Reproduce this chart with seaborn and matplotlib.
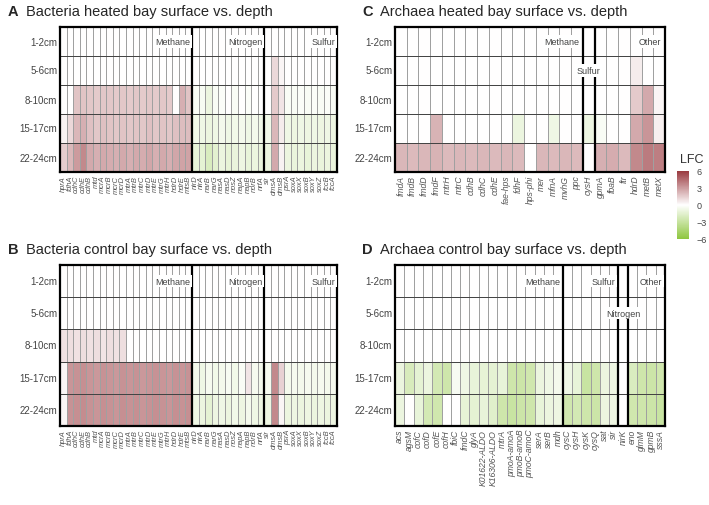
import numpy as np
import pandas as pd
import matplotlib
matplotlib.use('Agg')
import matplotlib.pyplot as plt
import seaborn as sns
from matplotlib.colors import LinearSegmentedColormap

sns.set_style('white')
plt.rcParams['font.family'] = ['Liberation Sans', 'DejaVu Sans']

depths = ['1-2cm', '5-6cm', '8-10cm', '15-17cm', '22-24cm']

# ---- bacteria genes (panels A and B)
bac_methane = ['hprA', 'fdhA', 'cdhC', 'cdhE', 'cdhB', 'mtd', 'mcrA', 'mcrB', 'mcrC', 'mcrD',
               'mtrA', 'mtrB', 'mtrC', 'mtrD', 'mtrE', 'mtrG', 'mtrH', 'hdrD', 'hdrE', 'mtsB']
bac_nitrogen = ['nirD', 'nirA', 'narB', 'narG', 'nasA', 'nasD', 'nosZ', 'napA', 'napB', 'norB', 'nrfA']
bac_sulfur = ['sir', 'dmsA', 'dmsB', 'psrA', 'soxA', 'soxX', 'soxB', 'soxY', 'soxZ', 'fccB', 'fccA']

heated_bac = [
    [0] * 42,
    [0] * 31 + [0, 1.2, 0.3, 0, 0, 0, 0, 0, 0, 0, 0],
    [0, 0, 1.8, 1.8, 1.7, 1.6, 1.7, 1.7, 1.6, 1.7, 1.6, 1.7, 1.6, 1.7, 1.6, 1.7, 1.6, 0, 2.4, 1.8]
    + [-0.3, -0.4, -1.0, -0.3, -0.2, 0, -0.3, 0, -0.2, 0, 0]
    + [0, 1.6, 0.8, -0.3, -0.3, -0.2, -0.3, -0.2, -0.3, -0.2, -0.3],
    [0.4, 1.2, 2.2, 2.4, 1.9, 1.7, 1.9, 1.8, 1.7, 1.8, 1.7, 1.8, 1.7, 1.9, 1.7, 1.8, 1.7, 1.9, 2.0, 2.0]
    + [-0.7, -0.8, -1.0, -0.8, -0.6, -0.8, -0.7, -0.6, -0.8, -0.6, -0.7]
    + [-0.7, 2.2, 0.6, -0.8, -0.9, -0.8, -0.9, -0.8, -0.9, -0.8, -0.9],
    [1.5, 2.2, 3.0, 3.6, 2.6, 2.4, 2.6, 2.5, 2.4, 2.6, 2.4, 2.6, 2.5, 2.7, 2.4, 2.6, 2.4, 2.7, 2.8, 2.8]
    + [-1.2, -1.4, -2.0, -1.5, -1.0, -1.3, -1.1, -0.9, -1.2, -1.0, -1.1]
    + [-1.0, 2.6, 0.4, -1.0, -1.1, -1.0, -1.2, -1.0, -1.1, -1.0, -1.1],
]

control_bac = [
    [0] * 42,
    [0] * 42,
    [0.9, 1.0, 0.9, 1.0, 0.9, 1.0, 0.8, 1.0, 0.9, 1.0] + [0] * 32,
    [0.3, 3.2, 3.3, 3.4, 3.2, 3.1, 3.3, 3.2, 3.1, 3.3, 3.2, 3.3, 3.1, 3.2, 3.3, 3.2, 3.1, 3.3, 3.2, 3.3]
    + [-0.6, -0.8, -0.5, -0.7, -0.6, -0.4, -0.7, -0.3, 0.8, -0.5, -0.6]
    + [-0.5, 3.6, 1.4, -0.6, -0.5, -0.6, -0.5, -0.6, -0.5, -0.6, -0.5],
    [0.3, 3.3, 3.4, 3.5, 3.3, 3.2, 3.4, 3.3, 3.2, 3.4, 3.3, 3.4, 3.2, 3.3, 3.4, 3.3, 3.2, 3.4, 3.3, 3.4]
    + [-0.8, -1.0, -1.4, -0.9, -0.8, -1.0, -0.7, -0.9, -0.6, -0.8, -0.9]
    + [-0.9, 3.6, 0.3, -1.0, -0.9, -1.0, -0.9, -1.0, -0.9, -1.0, -0.9],
]

# ---- archaea genes (panel C)
arc_c_methane = ['fmdA', 'fmdB', 'fmdD', 'fmdF', 'mtrH', 'mtrC', 'cdhB', 'cdhC', 'cdhE', 'fae-hps',
                 'fdhF', 'hps-phi', 'mer', 'mfnA', 'mvhG', 'ppc']
arc_c_sulfur = ['cysH']
arc_c_other = ['gpmA', 'fbaB', 'ftr', 'hdrD', 'metB', 'metX']

heated_arc = [
    [0] * 23,
    [0] * 20 + [0.6, 0, 0],
    [0] * 20 + [1.6, 2.6, 0.3],
    [0, 0, 0, 2.3, 0, 0, 0, 0, 0, 0, -1.0, 0, 0, -0.8, 0, 0] + [-0.9] + [-0.3, 0, 0, 2.6, 3.2, 0.5],
    [2.2, 2.1, 2.2, 2.3, 2.1, 2.2, 2.1, 2.2, 2.1, 2.2, 2.1, 0, 2.2, 2.1, 2.2, 2.1] + [0] + [2.4, 2.5, 2.1, 3.6, 4.0, 3.9],
]

# ---- archaea genes (panel D)
arc_d_methane = ['acs', 'agsM', 'cofC', 'cofD', 'cofE', 'cofH', 'fbiC', 'fmdC', 'glyA', 'K01622-ALDO',
                 'K16306-ALDO', 'mtrA', 'pmoA-amoA', 'pmoB-amoB', 'pmoC-amoC', 'serA', 'serB', 'mdh']
arc_d_sulfur = ['cysC', 'cysH', 'cysK', 'cysQ', 'sat', 'sir']
arc_d_nitrogen = ['nirK']
arc_d_other = ['eno', 'glmM', 'gpmB', 'sssA']

control_arc = [
    [0] * 29,
    [0] * 29,
    [0] * 29,
    [-1.0, -2.1, -1.4, -1.0, -2.3, -2.6, -0.4, -0.8, -1.2, -1.3, -1.4, -1.2, -2.6, -2.7, -2.5, -1.0, -0.8, -0.6]
    + [-0.8, -1.2, -2.9, -2.6, -1.0, -0.9] + [0] + [-2.0, -2.6, -2.7, -2.5],
    [-1.0, 0, -1.2, -2.3, -2.5, 0, 0, -1.3, -1.4, -1.2, -1.6, -2.6, -2.9, -2.7, -2.6, -1.2, -1.0, -0.9]
    + [-2.5, -2.3, -2.6, -2.7, -1.0, -0.9] + [0] + [-2.5, -2.6, -2.7, -2.9],
]

cmap = LinearSegmentedColormap.from_list('lfc', ['#8ec63f', '#ffffff', '#9a3a40'])

W, H = 709, 506
fig = plt.figure(figsize=(W / 100, H / 100), dpi=100)


def px_axes(x0, y0, x1, y1):
    return fig.add_axes([x0 / W, 1 - y1 / H, (x1 - x0) / W, (y1 - y0) / H])


def panel(ax, groups, values, labels_pos, gene_size):
    genes = [g for _, grp in groups for g in grp]
    df = pd.DataFrame(values, index=depths, columns=genes)
    sns.heatmap(df, ax=ax, cmap=cmap, vmin=-6, vmax=6, cbar=False,
                linewidths=0.5, linecolor='#a0a0a0')
    for y in range(1, len(depths)):
        ax.axhline(y, color='#333333', lw=0.6)
    edge = 0
    for name, grp in groups:
        start = edge
        edge += len(grp)
        if edge < len(genes):
            ax.axvline(edge, color='black', lw=1.6)
        row, where = labels_pos.get(name, (0, 'right'))
        if where == 'right':
            ax.text(edge - 0.3, row + 0.5, name, ha='right', va='center', fontsize=6.5, color='#444444',
                    bbox=dict(facecolor='white', edgecolor='none', pad=1.2))
        else:
            ax.text((start + edge) / 2, row + 0.5, name, ha='center', va='center', fontsize=6.5,
                    color='#444444', bbox=dict(facecolor='white', edgecolor='none', pad=1.2))
    for s in ax.spines.values():
        s.set_visible(True)
        s.set_linewidth(1.6)
        s.set_color('black')
    ax.set_xlabel('')
    ax.set_ylabel('')
    ax.set_xticks(np.arange(len(genes)) + 0.5)
    ax.set_xticklabels(genes, rotation=90, fontsize=gene_size, style='italic', color='#555555')
    ax.set_yticks(np.arange(len(depths)) + 0.5)
    ax.set_yticklabels(depths, rotation=0, fontsize=7, color='#444444')
    ax.tick_params(length=0, pad=2)


bac_groups = [('Methane', bac_methane), ('Nitrogen', bac_nitrogen), ('Sulfur', bac_sulfur)]
axA = px_axes(60, 28, 337, 173)
panel(axA, bac_groups, heated_bac, {}, 5.4)
axB = px_axes(60, 266, 337, 427)
panel(axB, bac_groups, control_bac, {}, 5.4)
axC = px_axes(395, 28, 665, 173)
panel(axC, [('Methane', arc_c_methane), ('Sulfur', arc_c_sulfur), ('Other', arc_c_other)], heated_arc,
      {'Sulfur': (1, 'center')}, 6.2)
axD = px_axes(395, 266, 665, 427)
panel(axD, [('Methane', arc_d_methane), ('Sulfur', arc_d_sulfur), ('Nitrogen', arc_d_nitrogen),
            ('Other', arc_d_other)], control_arc, {'Nitrogen': (1, 'center')}, 6.2)

titles = [(8, 12, 'A', 'Bacteria heated bay surface vs. depth'),
          (8, 250, 'B', 'Bacteria control bay surface vs. depth'),
          (362, 12, 'C', 'Archaea heated bay surface vs. depth'),
          (362, 250, 'D', 'Archaea control bay surface vs. depth')]
for x, y, letter, text in titles:
    fig.text(x / W, 1 - y / H, letter, fontsize=10.5, weight='bold', va='center')
    fig.text((x + 18) / W, 1 - y / H, text, fontsize=10.5, va='center')

# colour bar
cax = px_axes(677, 172, 689, 240)
sm = plt.cm.ScalarMappable(cmap=cmap, norm=plt.Normalize(-6, 6))
cb = fig.colorbar(sm, cax=cax, ticks=[-6, -3, 0, 3, 6])
cb.outline.set_visible(False)
cb.ax.tick_params(labelsize=6.5, length=2, colors='#444444', color='white')
fig.text(680 / W, 1 - 160 / H, 'LFC', fontsize=9, va='center', color='#333333')

plt.savefig('out.png', dpi=100)
